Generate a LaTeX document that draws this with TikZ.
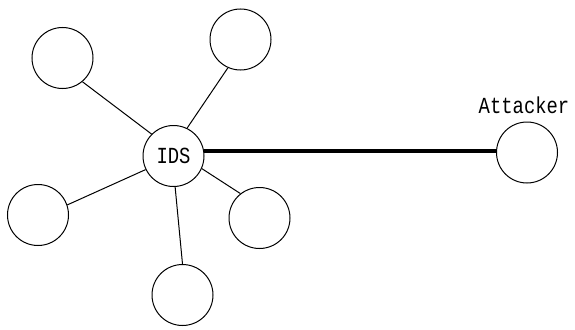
\documentclass[tikz,border=0pt]{standalone}
\usepackage{fontspec}
\usepackage{graphicx}
\newfontfamily\labfont{Liberation Mono}
\begin{document}
\begin{tikzpicture}[x=1pt,y=-1pt,
  host/.style={circle,draw,line width=1pt,minimum size=61pt,inner sep=0pt},
  link/.style={line width=1pt},
  attack/.style={line width=4.5pt},
  lab/.style={font=\labfont\fontsize{23}{23}\selectfont}]
\useasboundingbox (0,0) rectangle (575,329);
\node[host] (ids) at (173.5,156) {\scalebox{0.82}[1]{\labfont\fontsize{23}{23}\selectfont IDS}};
\node[host] (tl) at (62.5,58) {};
\node[host] (tr) at (240.5,39.5) {};
\node[host] (lf) at (38,215) {};
\node[host] (rl) at (259.5,218) {};
\node[host] (bt) at (182.5,295) {};
\node[host] (att) at (527,152.5) {};
\node[lab,anchor=south] (attl) at (524,117) {\scalebox{0.82}[1]{Attacker}};
\draw[link] (ids.135) -- (tl.-50);
\draw[link] (ids.64) -- (tr.-114);
\draw[link] (ids.206) -- (lf.19);
\draw[link] (ids.-24) -- (rl.128);
\draw[link] (ids.-87) -- (bt.90);
\draw[attack] (ids.9) -- (ids.9 -| att.west);
\end{tikzpicture}
\end{document}
